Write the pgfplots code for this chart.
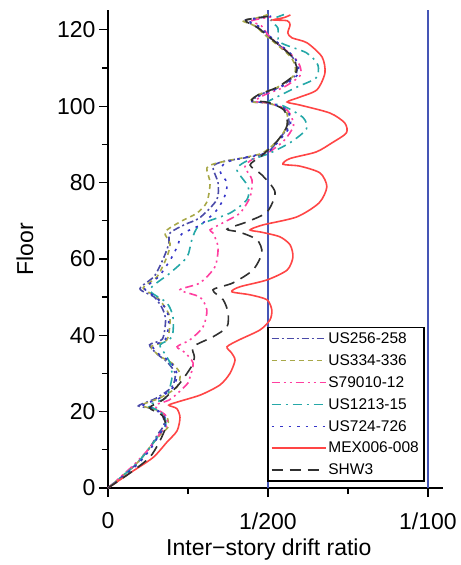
\documentclass[border=0pt]{standalone}
\usepackage{pgfplots}
\pgfplotsset{compat=1.18}
\usepackage{fontspec}
\setmainfont{Liberation Sans}
\definecolor{cBlue}{HTML}{4A4AA8}
\definecolor{cOlive}{HTML}{A8A848}
\definecolor{cPink}{HTML}{FF3FA0}
\definecolor{cTeal}{HTML}{25A8A8}
\definecolor{cDot}{HTML}{3535C8}
\definecolor{cRed}{HTML}{FF4545}
\definecolor{cBlack}{HTML}{303030}
\definecolor{cLine}{HTML}{4555B5}
\begin{document}
\begin{tikzpicture}
\begin{axis}[
  scale only axis,
  width=335pt, height=478pt,
  xmin=0, xmax=10.47, ymin=0, ymax=125.2,
  axis x line=bottom, axis y line=left,
  axis line style={-, line width=1.5pt, black},
  tick align=outside,
  major tick length=9pt, minor tick length=6pt,
  tick style={line width=1.3pt, black},
  xtick={0,5,10}, xticklabels={0,1/200,1/100},
  minor xtick={2.5,7.5},
  ytick={0,20,...,120}, minor ytick={10,30,...,110},
  /pgf/number format/assume math mode=true,
  ticklabel style={font=\fontsize{23}{27}\selectfont},
  xticklabel style={yshift=-12pt},
  label style={font=\fontsize{23}{27}\selectfont},
  xlabel={Inter−story drift ratio},
  ylabel={Floor},
  xlabel style={at={(axis description cs:0.48,-0.1297)}, anchor=center},
  ylabel style={at={(axis description cs:-0.2478,0.5)}, anchor=center},
  clip=false,
  legend style={at={(axis cs:9.9,1.5)}, anchor=south east,
    draw=black, line width=1.8pt, fill=white,
    font=\fontsize{15.5}{18}\selectfont, row sep=5.6pt,
    inner sep=3pt},
  legend cell align=left,
  legend image code/.code={\draw[#1, line width=1.6pt] (0pt,0pt) -- (54pt,0pt);},
  every axis plot/.append style={line width=1.6pt, smooth, tension=0.45},
]
\addplot[cLine, line width=1.5pt, forget plot, sharp plot] coordinates {(5,0) (5,125.2)};
\addplot[cLine, line width=1.5pt, forget plot, sharp plot] coordinates {(10,0) (10,125.2)};

% US256-258
\addplot[cBlue, dash pattern=on 7pt off 3pt on 2pt off 3pt] coordinates {
(0,0) (0.85,6) (1.3,10.5) (1.55,14) (1.75,16.5) (1.7,19) (1.4,20.8) (0.95,21.5) (1.5,23.5) (2.0,26.5) (2.1,30) (1.85,33) (1.55,35) (1.3,37.5) (1.7,39) (1.8,44) (1.7,47) (1.45,50) (1.0,52.2) (1.45,55.5) (1.75,60.5) (1.9,64) (1.94,66.8) (2.4,69) (2.87,70.8) (3.4,75.5) (3.44,79.9) (3.28,84.1) (3.6,85.5) (4.5,86.8) (5.0,88) (5.35,91.5) (5.65,95) (5.55,99) (5.0,100.8) (4.5,101.2) (4.75,103) (5.35,105) (5.85,108) (5.9,110.5) (5.75,113) (5.35,116) (4.95,118.7) (4.6,121) (4.3,122.6) (5.1,123.5)};
\addlegendentry{US256-258}

% US334-336
\addplot[cOlive, dash pattern=on 5pt off 4pt] coordinates {
(0,0) (0.9,6.5) (1.31,10.7) (1.63,13.9) (1.88,16) (1.84,18.6) (1.53,20.4) (1.06,21.7) (1.63,23.6) (2.16,26.5) (2.25,30) (2.0,32.7) (1.63,34.5) (1.35,37) (1.84,38.8) (1.94,44) (1.84,46.6) (1.53,50) (1.1,52.4) (1.53,55.3) (1.84,60.5) (1.94,64) (1.78,67) (2.25,69.7) (2.78,72) (3.09,74.9) (3.19,79.9) (3.09,83.8) (3.4,85.1) (4.34,86.7) (4.84,87.8) (5.3,91) (5.6,95) (5.55,99) (5.0,100.8) (4.45,101.2) (4.7,103) (5.3,105) (5.8,108) (5.85,110.5) (5.7,113) (5.3,116) (4.9,118.7) (4.6,121) (4.2,122.4) (4.6,123) (5.0,124)};
\addlegendentry{US334-336}

% S79010-12
\addplot[cPink, dash pattern=on 8pt off 4pt on 2pt off 4pt on 2pt off 4pt] coordinates {
(0,0) (0.8,6) (1.3,10.5) (1.6,14) (1.85,16.5) (1.8,19) (1.55,20.6) (1.5,21.8) (1.9,23) (2.19,24.9) (2.5,27.5) (2.56,29) (2.66,32.7) (2.4,35.5) (2.16,37) (2.56,38.8) (2.97,42.2) (3.09,46.6) (2.87,50) (2.25,51.9) (2.87,53.7) (3.34,57.9) (3.44,63.1) (3.28,66.8) (3.19,67.6) (3.6,69.5) (4.12,72) (4.44,76.2) (4.5,80.7) (4.28,84.1) (4.5,86) (5.0,87.8) (5.5,91) (5.8,95) (5.6,99) (5.05,100.8) (4.6,101.3) (4.9,103) (5.5,105) (6.0,108) (6.0,110.5) (5.8,113) (5.35,116) (5.0,118.7) (4.8,121) (4.5,122.4) (5.2,123.5)};
\addlegendentry{S79010-12}

% US1213-15
\addplot[cTeal, dash pattern=on 9pt off 5pt on 2pt off 5pt] coordinates {
(0,0) (0.85,6) (1.3,10.5) (1.6,14) (1.8,16.5) (1.75,19) (1.5,20.6) (1.25,21.6) (1.6,22.8) (1.84,23.8) (2.0,29) (1.94,32.7) (1.75,35.5) (1.63,37.5) (2.0,39.6) (2.03,44.8) (1.84,48.5) (1.31,51.9) (1.94,56.3) (2.47,60.5) (2.62,65) (2.87,68.9) (3.81,72) (4.34,75.5) (4.38,78.9) (4.03,83.3) (4.3,85.5) (5.0,87.5) (5.7,90.5) (6.2,94) (6.1,97) (5.5,100) (5.0,101) (5.3,102.5) (5.9,105) (6.5,107.4) (6.56,110.8) (6.2,114) (5.37,116.8) (5.31,120.5) (5.1,122.5) (5.5,124)};
\addlegendentry{US1213-15}

% US724-726
\addplot[cDot, dash pattern=on 2.5pt off 6pt] coordinates {
(0,0) (0.9,6) (1.35,10.5) (1.6,14) (1.8,16.5) (1.75,19) (1.45,20.8) (1.1,21.7) (1.6,23.5) (2.05,26.5) (2.15,30) (1.95,33) (1.6,35) (1.4,37.2) (1.8,39) (1.9,44) (1.8,47) (1.5,50) (1.15,52.2) (1.6,55.5) (2.0,60.5) (2.2,64) (2.3,66.5) (2.9,69) (3.4,72.8) (3.65,76.5) (3.72,79.9) (3.5,83) (3.7,85.3) (4.4,86.8) (5.0,88) (5.4,91.5) (5.7,95) (5.6,99) (5.05,100.8) (4.5,101.3) (4.8,103) (5.4,105) (5.9,108) (5.95,110.5) (5.8,113) (5.4,116) (5.0,118.7) (4.7,121) (4.4,122.5) (5.1,123.6)};
\addlegendentry{US724-726}

% MEX006-008
\addplot[cRed] coordinates {
(0,0) (0.7,4) (1.41,8) (1.84,12) (2.16,15) (2.25,18.5) (2.15,20.8) (1.9,21.7) (2.2,22.6) (2.9,24.4) (3.5,27) (3.81,30) (3.97,33.5) (3.85,35.5) (3.72,37) (4.1,38.8) (4.75,41.4) (5.06,44) (5.12,46.6) (4.97,49.3) (4.44,50.6) (3.87,51.4) (4.12,52.7) (4.97,54.5) (5.6,57.1) (5.78,60.5) (5.69,63.7) (5.37,65.8) (4.8,67) (4.44,67.6) (4.84,68.9) (5.9,71) (6.6,74.7) (6.84,78.9) (6.63,82.5) (6.0,84.3) (5.47,84.8) (5.69,86.3) (6.5,88) (7.0,90.4) (7.45,93) (7.4,95.6) (6.94,98.2) (6.0,100.3) (5.6,101.1) (6.0,102.4) (6.53,104.3) (6.78,108.7) (6.69,112.9) (6.22,116.6) (5.75,117.9) (5.62,119.2) (5.69,121.3) (5.6,122.4) (5.16,122.6) (5.5,123.2) (5.7,123.9)};
\addlegendentry{MEX006-008}

% SHW3
\addplot[cBlack, dash pattern=on 11pt off 7pt] coordinates {
(0,0) (0.7,4) (1.3,8) (1.6,12) (1.8,16) (1.7,19) (1.3,21) (1.7,23) (2.2,27) (2.6,31.7) (2.7,34.3) (2.66,37) (3.28,39.6) (3.72,42.2) (3.75,46) (3.6,49.3) (3.28,51.9) (3.9,53.7) (4.53,57.1) (4.81,61.6) (4.66,65) (4.12,67) (3.72,67.8) (4.34,69.7) (4.97,72.3) (5.22,77.5) (4.81,82) (4.44,84.6) (4.8,87) (5.3,91) (5.6,95) (5.5,99) (5.0,101) (4.5,101.5) (4.7,103) (5.3,105) (5.8,108) (5.9,110) (5.75,113) (5.35,116) (4.95,118.7) (4.7,120.5) (4.3,122.5) (5.0,123.5)};
\addlegendentry{SHW3}
\end{axis}
\path ([xshift=-108pt,yshift=-77pt]current axis.south west) rectangle ([xshift=15pt,yshift=10pt]current axis.north east);
\end{tikzpicture}
\end{document}
